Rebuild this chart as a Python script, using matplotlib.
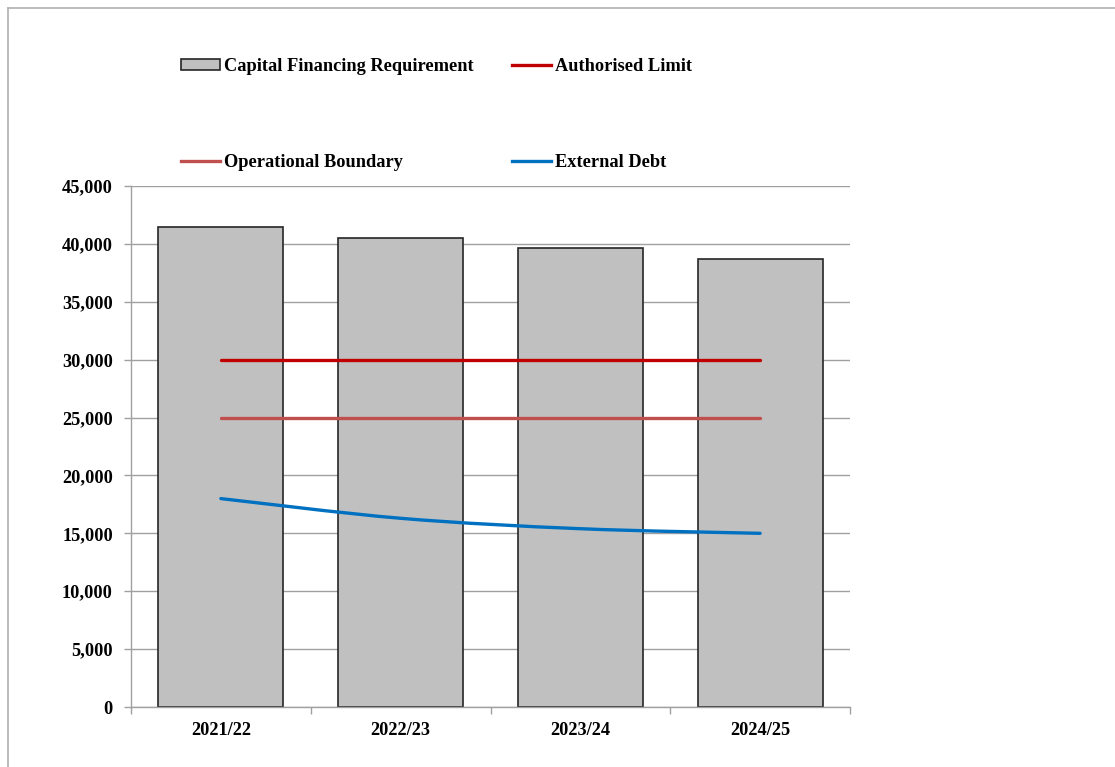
import numpy as np
import matplotlib
matplotlib.use('Agg')
import matplotlib.pyplot as plt
from matplotlib.path import Path
from matplotlib.patches import PathPatch, Patch
from matplotlib.lines import Line2D
from matplotlib.ticker import FuncFormatter, MultipleLocator

plt.rcParams['font.family'] = ['Liberation Serif', 'DejaVu Serif']
plt.rcParams['font.weight'] = 'bold'
plt.rcParams['font.size'] = 13.2

years = ['2021/22', '2022/23', '2023/24', '2024/25']
cfr = [41450, 40530, 39610, 38690]
authorised = [30000, 30000, 30000, 30000]
operational = [25000, 25000, 25000, 25000]
external = [18000, 16300, 15400, 15000]


def smooth_path(xs, ys):
    # excel style smoothed line (bezier through the points)
    xs = np.asarray(xs, float)
    ys = np.asarray(ys, float)
    n = len(xs)
    verts = [(xs[0], ys[0])]
    codes = [Path.MOVETO]
    for i in range(n - 1):
        p0 = (xs[max(i - 1, 0)], ys[max(i - 1, 0)])
        p1 = (xs[i], ys[i])
        p2 = (xs[i + 1], ys[i + 1])
        p3 = (xs[min(i + 2, n - 1)], ys[min(i + 2, n - 1)])
        c1 = (p1[0] + (p2[0] - p0[0]) / 6, p1[1] + (p2[1] - p0[1]) / 6)
        c2 = (p2[0] - (p3[0] - p1[0]) / 6, p2[1] - (p3[1] - p1[1]) / 6)
        verts += [c1, c2, p2]
        codes += [Path.CURVE4] * 3
    return Path(verts, codes)


fig = plt.figure(figsize=(11.15, 7.67), dpi=100)
ax = fig.add_axes([131 / 1115, 1 - 707 / 767, 719 / 1115, 521 / 767])

x = np.arange(len(years))
ax.bar(x, cfr, width=0.695, color='#c0c0c0', edgecolor='#262626', linewidth=1.2, zorder=2)
ax.plot(x, authorised, color='#c00000', lw=2.4, solid_capstyle='round', zorder=3)
ax.plot(x, operational, color='#c0504d', lw=2.4, solid_capstyle='round', zorder=3)
ax.add_patch(PathPatch(smooth_path(x, external), facecolor='none', edgecolor='#0070c0',
                       lw=2.4, capstyle='round', zorder=3))

ax.set_xlim(-0.5, 3.5)
ax.set_ylim(0, 45000)
ax.yaxis.set_major_locator(MultipleLocator(5000))
ax.yaxis.set_major_formatter(FuncFormatter(lambda v, p: f'{int(v):,}'))
ax.set_xticks(x)
ax.set_xticklabels(years)
ax.set_xticks(np.arange(-0.5, 4, 1), minor=True)
ax.tick_params(axis='x', which='major', length=0, pad=11)
ax.tick_params(axis='x', which='minor', length=5, color='#a0a0a0', width=1)
ax.tick_params(axis='y', length=5, color='#a0a0a0', width=1, pad=8)
ax.grid(axis='y', color='#a0a0a0', lw=1, zorder=0)
ax.set_axisbelow(True)
for s in ['top', 'right']:
    ax.spines[s].set_visible(False)
for s in ['left', 'bottom']:
    ax.spines[s].set_color('#a0a0a0')
    ax.spines[s].set_linewidth(1)

handles = [Patch(facecolor='#c0c0c0', edgecolor='#262626', lw=1.2),
           Line2D([], [], color='#c0504d', lw=2.4),
           Line2D([], [], color='#c00000', lw=2.4),
           Line2D([], [], color='#0070c0', lw=2.4)]
labels = ['Capital Financing Requirement', 'Operational Boundary',
          'Authorised Limit', 'External Debt']
fig.legend(handles, labels, ncol=2, loc='upper left',
           bbox_to_anchor=(181 / 1115, 1 - 58 / 767), frameon=False,
           borderpad=0, borderaxespad=0, handlelength=2.1, handleheight=0.5,
           handletextpad=0.25, columnspacing=2.1, labelspacing=4.3)

# outer chart border
fig.add_artist(Line2D([8 / 1115, 1], [1 - 8 / 767, 1 - 8 / 767], color='#b0b0b0', lw=1.2))
fig.add_artist(Line2D([8 / 1115, 8 / 1115], [0, 1 - 8 / 767], color='#b0b0b0', lw=1.2))

fig.savefig('out.png', dpi=100)
